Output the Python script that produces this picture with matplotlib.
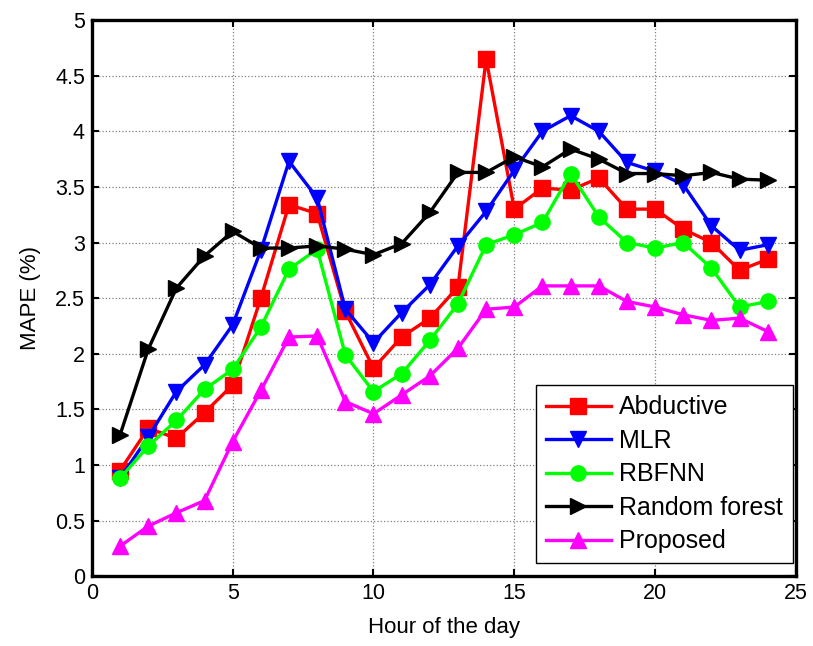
import numpy as np
import matplotlib
matplotlib.use('Agg')
import matplotlib.pyplot as plt

plt.rcParams['font.family'] = ['Liberation Sans', 'DejaVu Sans']

hours = np.arange(1, 25)

abductive = [0.95, 1.33, 1.24, 1.47, 1.72, 2.50, 3.34, 3.26, 2.38, 1.87, 2.15, 2.32,
             2.60, 4.65, 3.30, 3.49, 3.47, 3.58, 3.30, 3.30, 3.12, 3.00, 2.75, 2.85]
mlr = [0.88, 1.25, 1.66, 1.90, 2.26, 2.93, 3.73, 3.40, 2.40, 2.10, 2.37, 2.62,
       2.97, 3.28, 3.65, 4.00, 4.14, 4.00, 3.72, 3.64, 3.52, 3.15, 2.93, 2.98]
rbfnn = [0.88, 1.17, 1.40, 1.68, 1.86, 2.24, 2.76, 2.94, 1.99, 1.66, 1.82, 2.12,
         2.45, 2.98, 3.07, 3.18, 3.62, 3.23, 3.00, 2.95, 3.00, 2.77, 2.42, 2.47]
random_forest = [1.27, 2.04, 2.59, 2.88, 3.10, 2.95, 2.95, 2.97, 2.94, 2.89, 2.99, 3.27,
                 3.63, 3.63, 3.77, 3.68, 3.84, 3.75, 3.62, 3.62, 3.60, 3.63, 3.57, 3.56]
proposed = [0.27, 0.45, 0.57, 0.68, 1.21, 1.67, 2.15, 2.16, 1.57, 1.46, 1.63, 1.80,
            2.05, 2.40, 2.42, 2.61, 2.61, 2.61, 2.47, 2.42, 2.35, 2.30, 2.32, 2.20]

fig = plt.figure(figsize=(8.13, 6.46), dpi=100)
ax = fig.add_axes([0.113, 0.108, 0.866, 0.861])

lw = 2.4
ms = 11
ax.plot(hours, abductive, color='#ff0000', marker='s', lw=lw, ms=ms, label='Abductive')
ax.plot(hours, mlr, color='#0000ff', marker='v', lw=lw, ms=ms + 1, label='MLR')
ax.plot(hours, rbfnn, color='#00ff00', marker='o', lw=lw, ms=ms, label='RBFNN')
ax.plot(hours, random_forest, color='black', marker='>', lw=lw, ms=ms + 1, label='Random forest')
ax.plot(hours, proposed, color='#ff00ff', marker='^', lw=lw, ms=ms + 1, label='Proposed')

ax.set_xlim(0, 25)
ax.set_ylim(0, 5)
ax.set_xticks(np.arange(0, 26, 5))
ax.set_yticks(np.arange(0, 5.01, 0.5))
ax.set_yticklabels(['0', '0.5', '1', '1.5', '2', '2.5', '3', '3.5', '4', '4.5', '5'])
ax.grid(True, color='#808080', linestyle=':', linewidth=0.9)
ax.tick_params(direction='in', labelsize=15.5, length=5, width=1.5, top=True, right=True, pad=5)
for s in ax.spines.values():
    s.set_linewidth(2.4)

ax.set_xlabel('Hour of the day', fontsize=16, labelpad=9)
ax.set_ylabel('MAPE (%)', fontsize=16, labelpad=10)

leg = ax.legend(loc='lower right', bbox_to_anchor=(0.996, 0.023), fontsize=18,
                fancybox=False, framealpha=1, edgecolor='black', handlelength=2.6,
                borderaxespad=0, labelspacing=0.38, handletextpad=0.35,
                borderpad=0.4)
leg.get_frame().set_linewidth(1.0)

fig.savefig('out.png', dpi=100)
